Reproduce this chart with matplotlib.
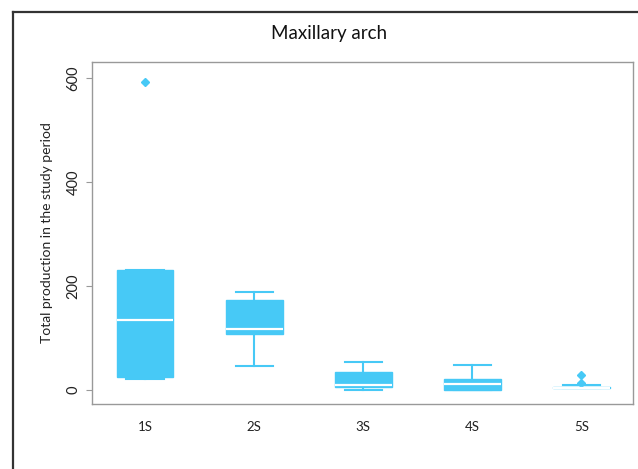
import matplotlib.pyplot as plt
from matplotlib.lines import Line2D

plt.rcParams['font.family'] = ['Lato', 'DejaVu Sans']

groups = ['1S', '2S', '3S', '4S', '5S']
whislo = [22, 46, 0, 0, 3]
q1 = [25, 108, 5, 0, 3]
med = [135, 118, 10, 11, 4]
q3 = [230, 174, 35, 22, 5]
whishi = [230, 189, 53, 48, 10]
fliers = [[592], [], [], [], [13, 29]]

blue = '#47C9F6'

def build_stats():
    stats = []
    for i, g in enumerate(groups):
        stats.append(dict(label=g, whislo=whislo[i], q1=q1[i], med=med[i],
                          q3=q3[i], whishi=whishi[i], fliers=fliers[i]))
    return stats

fig = plt.figure(figsize=(6.38, 4.69), dpi=100)
ax = fig.add_axes([92 / 638, 1 - 404 / 469, 541 / 638, 342 / 469])

ax.bxp(build_stats(), positions=range(1, 6), widths=0.52, patch_artist=True,
       boxprops=dict(facecolor=blue, edgecolor=blue, linewidth=1),
       medianprops=dict(color='white', linewidth=1.6),
       whiskerprops=dict(color=blue, linewidth=1.5),
       capprops=dict(color=blue, linewidth=1.5),
       capwidths=0.34,
       flierprops=dict(marker='D', markersize=4, markerfacecolor=blue,
                       markeredgecolor=blue))

ax.set_xlim(0.514, 5.472)
ax.set_ylim(-27, 631)
ax.set_yticks([0, 200, 400, 600])
ax.set_yticklabels(['0', '200', '400', '600'], rotation=90, va='center',
                   fontsize=10.5, color='#222222')
ax.tick_params(axis='y', length=4.3, color='#999999', width=0.8, pad=4)
ax.tick_params(axis='x', length=0, pad=12, labelsize=9.5, labelcolor='#222222')
for s in ax.spines.values():
    s.set_color('#999999')
    s.set_linewidth(1.0)

ax.set_ylabel('Total production in the study period', fontsize=10,
              color='#222222', labelpad=10)
fig.text(0.515, 1 - 33 / 469, 'Maxillary arch', ha='center', va='center',
         fontsize=13.5, color='#111111')

# outer frame (cut at right and bottom)
fig.add_artist(Line2D([13.3 / 638, 13.3 / 638], [0, 1 - 12.3 / 469],
                      transform=fig.transFigure, color='#333333', linewidth=1.6))
fig.add_artist(Line2D([13.3 / 638, 1], [1 - 12.3 / 469, 1 - 12.3 / 469],
                      transform=fig.transFigure, color='#333333', linewidth=1.6))

fig.savefig('out.png', dpi=100)
